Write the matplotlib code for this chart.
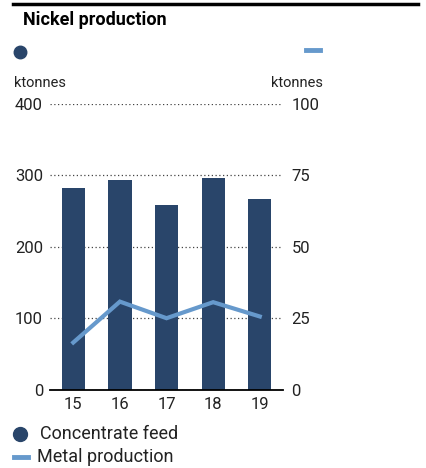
import matplotlib
matplotlib.use("Agg")
import matplotlib.pyplot as plt
from matplotlib.lines import Line2D

# Nickel production: concentrate feed (bars, left axis), metal production (line, right axis)
years = ["15", "16", "17", "18", "19"]
concentrate_feed = [282, 294, 259, 296, 267]
metal_production = [16.6, 30.9, 25.1, 30.7, 25.7]
left_ticks = [0, 100, 200, 300, 400]
right_ticks = [0, 25, 50, 75, 100]

bar_color = "#29456a"
line_color = "#6699cc"
plt.rcParams["font.family"] = ["Roboto", "DejaVu Sans"]

fig = plt.figure(figsize=(4.27, 4.68), dpi=100)
ax = fig.add_axes([0.117, 0.1667, 0.546, 0.6111])
x = range(len(years))
ax.bar(x, concentrate_feed, width=0.5, color=bar_color, zorder=2)
ax.set_xlim(-0.5, len(years) - 0.5)
ax.set_ylim(0, 400)
ax.set_yticks(left_ticks)
ax.set_xticks(list(x))
ax.set_xticklabels(years)
ax.tick_params(axis="both", length=0, labelsize=12, colors="#222222")
ax.tick_params(axis="y", pad=5)
ax.tick_params(axis="x", pad=5)
ax.yaxis.grid(True, linestyle=(0, (1, 2)), color="#444444", linewidth=0.9)
ax.set_axisbelow(True)
for s in ["left", "right", "top"]:
    ax.spines[s].set_visible(False)
ax.spines["bottom"].set_linewidth(1.3)
ax.spines["bottom"].set_zorder(3)

ax2 = ax.twinx()
ax2.plot(list(x), metal_production, color=line_color, linewidth=3, solid_joinstyle="miter", zorder=3)
ax2.set_ylim(0, 100)
ax2.set_yticks(right_ticks)
ax2.tick_params(axis="y", length=0, labelsize=12, colors="#222222", pad=6)
for s in ["left", "right", "top", "bottom"]:
    ax2.spines[s].set_visible(False)

# header
fig.add_artist(Line2D([13 / 427, 418 / 427], [1 - 3.5 / 468] * 2, color="black", linewidth=2.5))
fig.text(23 / 427, 1 - 20 / 468, "Nickel production", fontsize=13, fontweight="bold", va="center", ha="left")
fig.add_artist(Line2D([20 / 427], [1 - 52 / 468], marker="o", markersize=9, color=bar_color, linestyle="none"))
fig.add_artist(Line2D([306 / 427, 320 / 427], [1 - 50 / 468] * 2, color=line_color, linewidth=3.5))
fig.text(14 / 427, 1 - 83 / 468, "ktonnes", fontsize=10.5, va="center", ha="left", color="#222222")
fig.text(323 / 427, 1 - 83 / 468, "ktonnes", fontsize=10.5, va="center", ha="right", color="#222222")

# legend
fig.add_artist(Line2D([20 / 427], [1 - 434 / 468], marker="o", markersize=10, color=bar_color, linestyle="none"))
fig.text(40 / 427, 1 - 434 / 468, "Concentrate feed", fontsize=13, va="center", ha="left", color="#222222")
fig.add_artist(Line2D([14 / 427, 28 / 427], [1 - 457 / 468] * 2, color=line_color, linewidth=3.5))
fig.text(37 / 427, 1 - 457 / 468, "Metal production", fontsize=13, va="center", ha="left", color="#222222")

fig.savefig("out.png", dpi=100)
